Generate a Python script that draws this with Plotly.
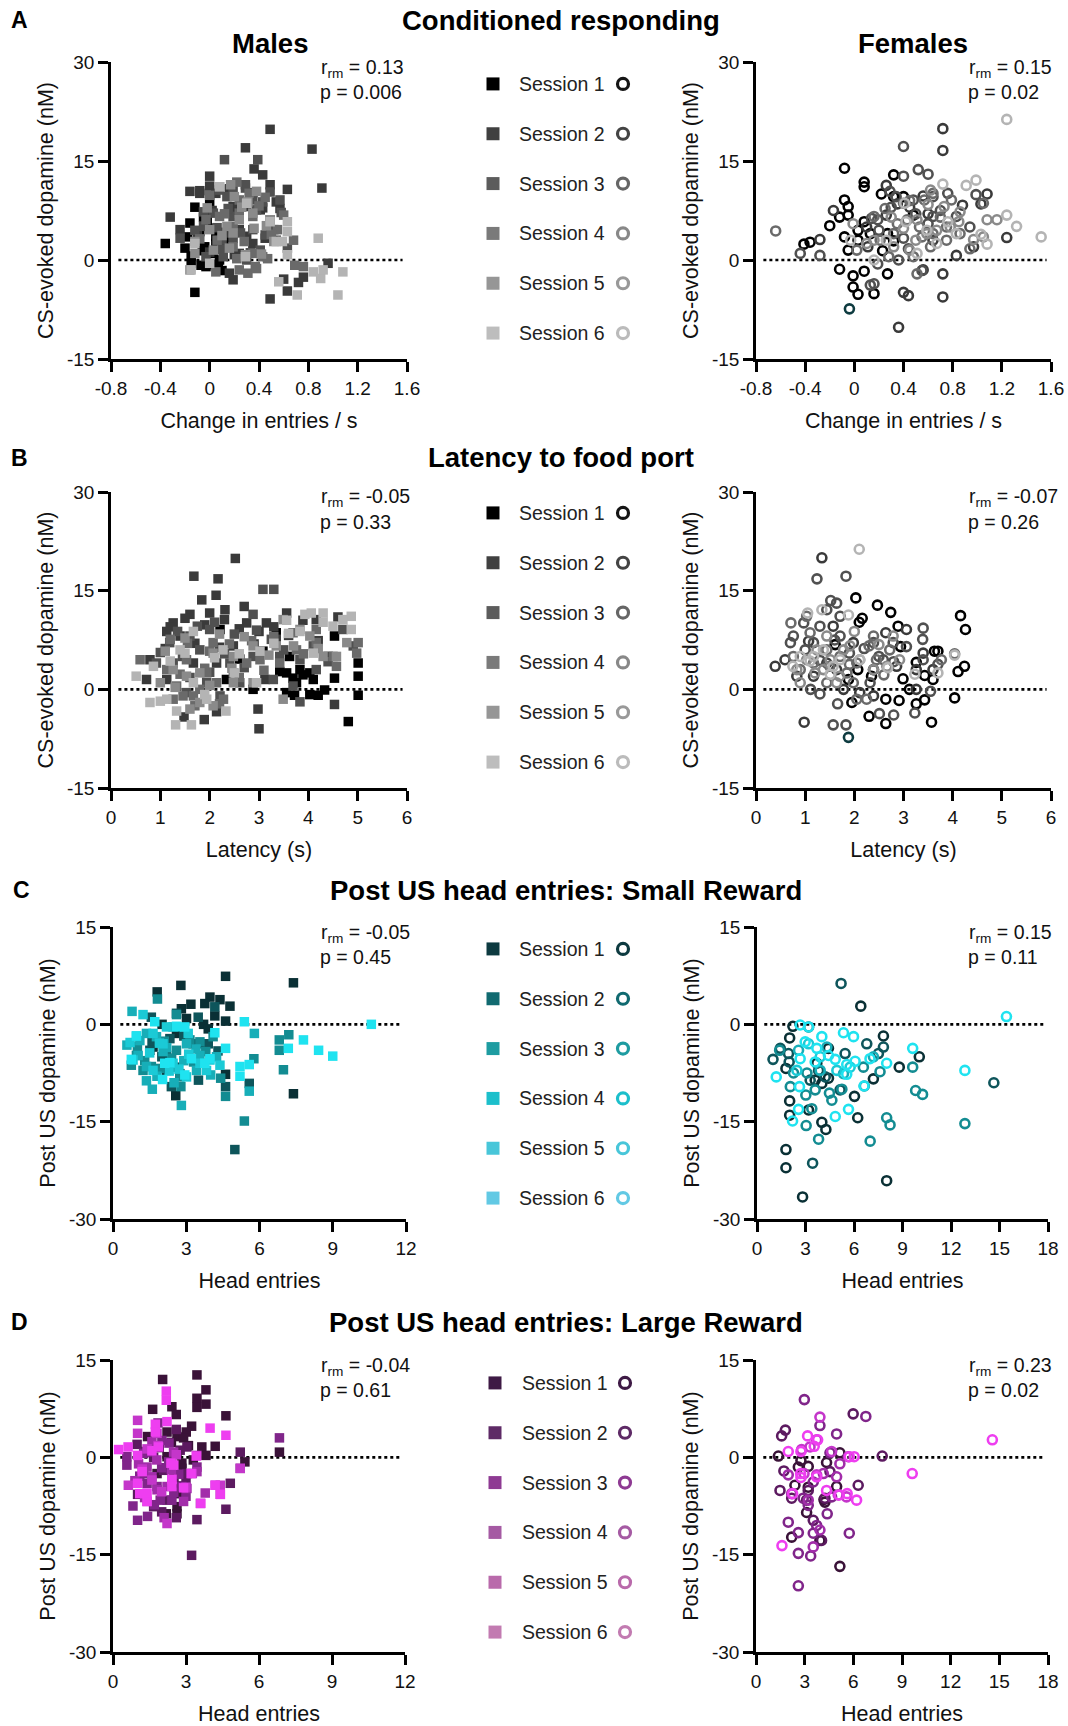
import plotly.graph_objects as go

# ======================= DATA =======================
SESSIONS = ["Session 1", "Session 2", "Session 3", "Session 4", "Session 5", "Session 6"]
SESSION_NUM = [1, 2, 3, 4, 5, 6]

# ---- Panel A: Conditioned responding, males (x: change in entries/s, y: CS-evoked DA) ----
A_M1_X = [-0.36, -0.12, -0.12, -0.16, -0.2, -0.15, -0.07, -0.03, 0.03, -0.04, 0.0, 0.07, 0.08, 0.03, 0.05, 0.01, -0.08, 0.12, -0.05, -0.18, -0.1, -0.02, 0.05, -0.15, -0.06, 0.1]
A_M1_Y = [2.5, -4.9, 8.0, 5.6, 1.8, -0.5, -0.8, -1.0, -0.7, 2.0, 8.9, -1.0, 0.0, 1.0, 2.5, 4.8, 4.3, 3.0, 6.5, 3.5, 2.8, 6.0, 3.6, 0.6, 1.4, -1.6]
A_M2_X = [-0.32, -0.24, -0.16, -0.08, 0.0, 0.0, 0.29, 0.49, 0.83, 0.91, 0.36, 0.43, 0.49, 0.63, 0.54, 0.41, 0.19, 0.16, 0.19, 0.6, 0.63, 0.49, 0.72, 0.76, 0.96, 0.24, 0.35, 0.14, 0.24, 0.05, 0.45, 0.3,
          -0.08, 0.16, 0.35, 0.57, 0.02, 0.22, 0.43, -0.1, 0.1, 0.3, 0.5, 0.0, 0.2]
A_M2_Y = [6.5, 4.6, 10.4, 10.1, 12.7, 11.2, 17.0, 19.8, 16.8, 10.9, 13.8, 12.9, 11.4, 10.7, 8.8, 7.6, 8.1, -2.0, -3.0, -2.9, -4.7, -5.9, -3.4, -2.6, -0.5, 1.0, 2.5, 4.1, 4.6, 10.1, 3.3, 8.1,
          10.5, 10.8, 10.2, 7.8, 7.5, 7.2, 7.9, 3.9, 4.2, 3.6, 4.4, 1.2, 0.8]
A_M3_X = [0.12, 0.39, 0.29, 0.57, 0.43, 0.19, 0.35, 0.19, 0.03, 0.1, -0.03, -0.05, 0.19, 0.54, 0.63, 0.3, 0.11, -0.24, 0.35, 0.14, 0.52, 0.41,
          0.08, 0.29, 0.49, -0.05, 0.15, 0.38, 0.58, -0.12, 0.06, 0.25, 0.45, 0.1, 0.33]
A_M3_Y = [15.2, 15.2, 11.4, 9.1, 8.8, 10.9, 4.6, 6.6, 7.1, 3.0, 0.5, 5.1, 3.3, 3.0, 1.8, 0.0, 0.5, 3.3, 9.1, 9.6, 4.6, 1.5,
          10.6, 10.9, 10.3, 7.3, 7.8, 7.6, 7.2, 4.5, 4.9, 4.1, 3.8, 1.6, 1.1]
A_M4_X = [0.24, 0.31, 0.37, 0.43, 0.47, 0.69, 0.76, 0.68, 0.55, 0.19, 0.06, 0.08, 0.24, 0.35, 0.32, -0.03, 0.19, 0.35, 0.49, 0.24,
          0.0, 0.22, 0.45, 0.12, 0.4, 0.6, -0.08, 0.28, 0.5, 0.05, 0.22, 0.38]
A_M4_Y = [-1.5, -2.0, -1.0, 0.5, 0.2, -0.8, -1.0, 3.0, 4.6, 5.1, 3.0, 6.6, 7.1, 6.6, 10.1, 6.1, 2.0, 1.0, 6.1, 9.1,
          9.8, 11.8, 9.5, 7.0, 8.2, 6.8, 3.2, 2.8, 3.9, -1.8, 0.2, -1.3]
A_M5_X = [0.29, 0.3, 0.08, 0.17, 0.49, 0.24, -0.16, -0.12, -0.12, 0.0, 0.14, 0.35, 0.31, 0.52, 0.03, 0.19,
          0.2, 0.38, -0.02, 0.26, 0.46, 0.1, 0.36, 0.16, 0.42]
A_M5_Y = [0.8, 8.6, 11.1, 11.4, 6.1, 6.1, -1.5, 1.0, 2.8, 4.6, 5.1, 7.1, 8.8, 2.8, 1.5, 4.1,
          9.6, 10.4, 7.9, 8.0, 5.2, 3.7, 4.8, 1.8, 0.9]
A_M6_X = [0.63, 0.63, 0.59, 0.63, 0.88, 0.71, 0.84, 0.9, 0.92, 1.04, 1.08, 0.56, -0.15, -0.12, 0.3, 0.49, 0.54, 0.08, 0.29, 0.0]
A_M6_Y = [5.8, 4.3, 2.8, 0.8, 3.3, -5.3, -1.8, -2.8, -1.5, -5.3, -1.8, -3.3, -1.5, 2.5, 8.6, 5.8, 2.8, 11.1, 0.5, -0.5]

# ---- Panel A: females (circles) ----
A_F1_X = [-0.08, 0.08, 0.08, 0.32, 0.22, 0.32, -0.08, -0.05, -0.05, -0.12, -0.2, -0.41, -0.36, -0.08, 0.03, 0.03, -0.05, 0.08, 0.13, 0.27, 0.32, 0.23, -0.12, -0.01, -0.01, 0.03, 0.08, 0.16, 0.27, 0.48, 0.4]
A_F1_Y = [13.9, 11.8, 11.1, 12.9, 10.0, 9.6, 9.1, 8.1, 6.8, 6.5, 5.2, 2.4, 2.7, 3.5, 4.5, 3.0, 1.5, 5.8, 4.0, 4.0, 2.9, 1.4, -1.4, -2.4, -4.1, -5.2, -1.7, -5.1, -2.1, 6.8, 9.6]
A_F2_X = [0.72, 0.72, 0.26, 0.56, 1.03, 1.08, 0.45, 0.88, 0.83, 0.36, 0.44, 0.40, 0.11, 0.26, 1.24, -0.28, -0.17, 0.72, 0.72, 0.56, 0.64, 0.97, 0.1, 0.35, 0.6]
A_F2_Y = [19.9, 16.6, 11.3, 9.7, 8.5, 10.0, 8.0, 8.3, 0.7, -10.2, -5.4, -4.9, 2.0, 6.8, 3.4, 3.1, 7.5, -2.1, -5.6, -1.5, 3.0, 2.0, 5.0, 8.5, 7.0]
A_F3_X = [0.4, 0.52, 0.6, 0.4, -0.44, -0.28, 0.14, 0.19, 0.29, 0.34, 0.48, 0.64, 0.76, 0.94, 0.99, 0.4, 0.44, 0.36, 0.19, 0.13, 0.16, 0.55, 0.64, 0.83, 0.3, 0.5, 0.7, 0.2, 0.6]
A_F3_Y = [17.2, 13.7, 13.0, 12.7, 1.0, 0.7, 6.3, 6.1, 10.4, 9.6, 9.1, 9.6, 10.1, 5.0, 9.9, 3.3, 1.7, 0.0, -0.6, -3.8, -3.6, -1.6, 6.6, 6.6, 8.0, 7.0, 7.5, 4.5, 5.5]
A_F4_X = [-0.64, 0.4, 0.57, 0.28, 0.51, 0.16, 0.02, 0.21, 0.64, 0.75, 0.86, 0.94, 1.05, 0.62, 0.75, 0.43, 0.53, 0.32, 0.79, 0.64, 0.48, 0.35, 0.55, 0.25, 0.45, 0.7]
A_F4_Y = [4.4, 8.6, 9.1, 0.5, -2.1, 6.6, 1.5, 3.0, 4.0, 5.0, 4.0, 1.7, 8.6, 2.0, 3.0, 6.1, 5.0, 4.0, 9.1, 10.1, 0.5, 5.5, 3.5, 7.8, 9.0, 6.5]
A_F5_X = [1.08, 1.16, 0.86, 0.78, 1.05, 0.97, 0.67, 0.59, 0.51, 0.32, 0.16, -0.01, 0.45, 0.1, 0.73, 0.62, 0.4, 0.6, 0.85, 0.3, 0.5]
A_F5_Y = [6.1, 6.1, 7.3, 5.0, 3.5, 3.1, 4.5, 4.0, 6.1, 2.0, 3.0, 5.5, 1.5, 2.5, 8.1, 10.6, 4.8, 8.4, 5.8, 6.5, 3.0]
A_F6_X = [1.24, 0.72, 0.91, 0.99, 1.24, 1.32, 1.52, 1.08, 1.03, 0.83, 0.76, 0.67, 0.59, 0.41, 0.42, -0.03, 0.26, 0.51, 0.16]
A_F6_Y = [21.3, 11.5, 11.3, 12.1, 6.8, 5.1, 3.5, 2.4, 3.9, 4.0, 5.8, 2.5, 4.5, 8.6, 5.8, 3.0, 3.0, 1.0, 0.0]
A_FX_X = [-0.04]
A_FX_Y = [-7.4]

# ---- Panel B: Latency to food port, males ----
B_M1_X = [3.42, 3.56, 3.69, 3.83, 3.89, 4.03, 3.76, 3.56, 3.72, 4.03, 4.2, 4.33, 4.53, 5.01, 5.01, 5.01, 4.81, 4.53, 4.4, 3.08, 3.35, 2.21, 2.88, 2.34, 2.61, 3.62, 4.1]
B_M1_Y = [2.7, 2.5, 1.7, 3.0, 2.2, 2.5, 1.0, -0.5, -0.9, -0.8, -0.9, -0.1, 1.7, 4.0, 2.0, -0.9, -4.9, 8.1, 5.0, 5.8, 8.6, 9.1, 0.0, 1.5, 4.6, 5.0, 1.5]
B_M2_X = [1.68, 2.52, 2.17, 2.13, 2.7, 2.31, 1.6, 1.84, 2.0, 1.13, 1.26, 1.4, 2.75, 3.15, 4.6, 4.16, 3.89, 2.98, 3.0, 1.48, 1.89, 2.14, 4.53, 0.79, 0.72, 1.13, 1.67, 2.14, 2.48, 3.56, 3.35, 3.12,
          1.2, 1.5, 1.9, 2.3, 2.6, 3.0, 3.3, 1.1, 1.7, 2.2, 2.9, 3.6, 4.2]
B_M2_Y = [17.2, 19.9, 16.8, 14.3, 12.6, 12.1, 11.4, 13.6, 11.6, 8.8, 10.1, 8.1, 10.1, 10.1, 11.0, 10.6, 10.5, -3.0, -6.0, -4.2, -4.6, -3.4, -2.3, 4.5, 1.5, 1.5, 4.0, 4.0, 6.6, 11.6, 7.6, 1.5,
          9.5, 10.8, 9.8, 10.6, 9.2, 8.8, 9.5, 6.2, 7.0, 6.4, 6.9, 8.2, 7.4]
B_M3_X = [3.08, 3.3, 2.88, 2.0, 1.6, 1.19, 0.92, 1.26, 1.8, 2.41, 2.88, 3.42, 3.83, 4.1, 4.7, 4.91, 1.94, 1.53, 2.61, 3.29, 3.69, 3.83, 4.16, 2.21,
          1.35, 1.75, 2.1, 2.5, 2.95, 3.25, 1.0, 1.45, 2.3, 2.7, 3.5, 4.4, 1.6, 2.0]
B_M3_Y = [15.2, 15.2, 11.4, 9.1, 8.1, 7.1, 4.0, 4.0, 6.0, 4.0, 5.0, 5.0, 4.5, 6.6, 9.1, 6.6, 1.0, -0.5, 1.0, 1.5, 0.5, -1.9, 3.0, -1.0,
          8.8, 9.6, 10.2, 8.4, 9.0, 7.6, 5.6, 5.0, 5.4, 3.3, 6.0, 4.2, 1.8, 2.6]
B_M4_X = [1.33, 1.46, 1.67, 1.8, 1.94, 2.14, 2.28, 2.48, 2.75, 3.02, 3.42, 3.76, 4.16, 4.5, 4.57, 5.01, 4.98, 4.16, 3.69, 2.07, 1.53, 1.13, 0.59, 1.26,
          1.2, 1.55, 2.0, 2.4, 2.85, 3.3, 3.9, 1.4, 1.9, 2.6, 3.1, 1.7, 2.2]
B_M4_Y = [0.5, -1.0, -1.0, 0.0, 2.5, 1.0, -1.5, 2.5, 4.0, 4.5, 4.0, 6.0, 7.1, 5.0, 3.5, 7.1, 5.5, 9.1, 8.6, 7.1, 4.5, 3.0, 4.5, -1.5,
          7.6, 7.0, 5.8, 6.9, 7.4, 8.0, 5.4, 2.3, 3.2, 1.8, 2.9, -2.5, -2.2]
B_M5_X = [3.35, 3.49, 3.83, 4.03, 4.3, 4.57, 4.78, 2.88, 2.48, 2.07, 1.8, 1.53, 1.26, 1.0, 1.8, 2.07, 2.88, 2.48, 3.49,
          1.1, 1.5, 2.2, 2.7, 3.2, 3.7, 4.2, 1.3, 2.0, 2.45, 1.6]
B_M5_Y = [6.6, 10.6, 9.1, 8.1, 5.0, 5.0, 7.1, 6.6, 5.0, 5.5, 2.5, 2.0, 3.0, 1.0, -2.0, -2.5, 1.0, 1.0, -1.5,
          5.8, 7.8, 8.4, 8.0, 5.2, 6.6, 6.2, 0.3, 0.6, 3.2, -3.0]
B_M6_X = [0.51, 0.79, 1.0, 1.13, 1.33, 1.31, 1.63, 2.33, 1.94, 1.67, 1.67, 1.4, 3.02, 3.56, 3.93, 4.06, 4.3, 4.87, 4.87, 4.5, 3.83, 4.1, 2.95, 2.27, 0.86,
          1.2, 1.5, 2.1, 2.6, 3.3, 3.6, 4.3, 4.7, 1.9, 2.5]
B_M6_Y = [2.0, -2.0, -1.8, -1.5, -3.3, -5.4, -5.4, -3.3, -1.5, 1.0, 8.8, 6.0, 5.8, 10.5, 11.4, 11.6, 11.6, 11.1, 9.1, 9.6, 8.8, 5.5, 1.0, 6.0, 3.5,
          4.3, 5.5, 4.8, 5.4, 7.0, 8.5, 10.2, 10.6, -0.8, 2.5]

# ---- Panel B: females ----
B_F1_X = [2.03, 2.47, 2.74, 2.89, 2.1, 2.16, 1.61, 1.88, 2.07, 2.39, 2.35, 2.3, 2.64, 2.64, 2.91, 2.99, 3.12, 2.94, 3.26, 3.43, 3.43, 3.57, 3.6, 3.63, 3.7, 4.04, 4.11, 4.16, 4.24, 4.26, 1.95, 3.26]
B_F1_Y = [13.9, 12.8, 11.7, 9.6, 10.2, 10.8, 6.8, 1.5, 3.0, 3.0, 2.0, -4.1, -1.5, -5.2, -1.7, 1.6, 0.0, 6.5, 4.1, 2.1, -1.6, -5.0, 1.5, 5.8, 5.8, -1.3, 2.7, 11.2, 3.5, 9.1, -2.0, -2.2]
B_F2_X = [1.34, 1.07, 0.98, 0.39, 0.59, 1.17, 1.57, 1.98, 2.64, 3.06, 2.86, 3.26, 3.4, 3.6, 3.26, 2.39, 2.11, 1.64, 1.44, 0.83, 1.78]
B_F2_Y = [20.0, 7.3, -5.0, 3.5, 4.5, 2.0, 9.6, 7.1, 8.6, 9.1, 3.5, 3.0, 5.5, 3.0, 0.0, -1.0, -0.5, 3.0, 4.0, 2.0, 0.0]
B_F3_X = [1.24, 1.83, 1.52, 1.64, 1.3, 1.44, 1.71, 0.97, 0.76, 0.7, 1.17, 1.71, 2.39, 2.79, 3.06, 3.4, 3.7, 3.4, 3.39, 1.57, 1.83, 1.66, 2.8, 2.51, 3.23, 3.55, 1.11, 1.3, 2.32, 2.59,
          1.0, 1.3, 1.6, 1.9, 2.2, 2.5, 2.8]
B_F3_Y = [16.8, 17.2, 13.5, 13.1, 9.6, 12.1, 11.1, 10.1, 8.1, 7.1, 7.1, 8.1, 7.1, 7.1, 6.5, 4.5, 3.8, 9.3, 7.6, -5.4, -5.4, -2.2, -3.9, -3.7, -3.6, -0.3, 0.0, -0.7, 1.0, 4.5,
          6.0, 4.4, 7.5, 5.5, 6.2, 5.0, 4.2]
B_F4_X = [0.71, 1.03, 0.76, 0.9, 1.17, 1.44, 1.71, 2.05, 2.45, 2.72, 2.39, 1.98, 2.25, 1.85, 4.04, 3.77, 2.05, 1.44, 1.1, 1.5, 1.9, 2.3, 2.6]
B_F4_Y = [10.1, 11.1, 5.0, 3.0, 4.0, 6.0, 5.0, 4.0, 4.5, 6.0, 8.1, 1.0, -1.5, 2.5, 5.4, 4.5, -1.5, 1.0, 8.6, 3.5, 3.8, 6.6, 2.2]
B_F5_X = [0.83, 1.03, 1.24, 1.37, 1.51, 1.78, 2.11, 2.39, 2.66, 2.92, 2.79, 1.91, 1.44, 0.9, 1.64, 1.2, 1.7, 2.0, 2.5]
B_F5_Y = [3.0, 4.5, 6.0, 3.0, 4.5, 6.0, 4.5, 3.0, 3.5, 4.5, 8.1, 6.6, 8.1, 1.0, 1.0, 2.5, 2.0, 8.8, 6.8]
B_F6_X = [2.1, 1.34, 1.05, 1.88, 0.75, 1.1, 1.17, 1.37, 1.57, 1.71, 2.11, 2.68, 3.23, 3.7, 4.04, 1.51, 0.9]
B_F6_Y = [21.3, 12.1, 11.6, 11.3, 3.5, 4.3, 5.0, 6.0, 3.5, 4.5, 4.5, 3.3, 2.3, 2.5, 5.2, 2.3, 5.0]
B_FX_X = [1.88]
B_FX_Y = [-7.3]

# ---- Panel C: Post US head entries, small reward, males ----
C_M1_X = [4.61, 7.39, 2.78, 1.81, 3.97, 4.38, 3.76, 3.19, 4.79, 2.8, 4.17, 4.61, 3.71, 2.01, 3.01, 7.39, 4.61, 2.57, 2.19, 1.64, 2.6, 3.69, 3.9]
C_M1_Y = [7.4, 6.4, 6.0, 5.0, 4.2, 3.8, 3.2, 3.1, 2.8, 2.4, 1.3, 0.5, 0.0, 0.0, 0.9, -10.7, -7.7, -11.0, -7.1, -3.5, -1.4, -3.0, -0.7]
C_M2_X = [4.99, 5.58, 4.61, 4.17, 2.6, 2.33, 2.19, 1.51, 2.74, 3.28, 3.9, 2.6, 1.57, 3.49, 2.39, 1.6, 2.0, 2.9, 3.5, 4.3]
C_M2_Y = [-19.3, -9.1, -9.6, 2.7, 1.7, -2.2, -4.8, -4.0, -7.6, -3.0, -3.0, -6.6, 1.1, 1.1, -9.6, -2.6, -5.0, -1.8, -8.6, -4.1]
C_M3_X = [1.82, 5.38, 4.61, 4.41, 2.78, 2.74, 6.81, 6.98, 7.2, 6.81, 5.77, 1.23, 1.57, 0.96, 2.6, 3.15, 3.56, 2.6, 4.1, 0.75,
          1.0, 1.9, 2.4, 3.3, 3.8, 2.1, 1.3]
C_M3_Y = [3.9, -14.9, -11.1, -8.3, -9.6, -8.1, -4.0, -7.0, -1.6, -2.4, -5.3, -7.1, -6.5, -4.8, -4.0, -2.4, -2.7, 1.5, -1.9, -6.3,
          -3.4, -6.8, -5.2, -5.8, -4.2, -2.6, -5.6]
C_M4_X = [0.78, 0.57, 1.03, 1.37, 1.61, 2.8, 5.58, 5.79, 1.37, 2.05, 3.01, 3.56, 4.24, 1.78, 2.46, 1.37, 3.42, 1.1, 2.2, 2.9, 3.4, 4.0, 1.8, 2.5]
C_M4_Y = [2.0, -3.2, -4.8, -8.7, -10.0, -12.5, -10.3, -1.4, -1.4, -4.2, -3.0, -4.8, -5.0, -1.9, -0.4, -6.5, -7.1, -2.5, -3.6, -5.6, -3.8, -7.8, -8.0, -9.0]
C_M5_X = [1.23, 0.96, 0.82, 1.64, 2.05, 2.46, 3.08, 3.56, 3.97, 4.38, 3.01, 3.83, 2.19, 1.64, 2.6, 0.7, 1.5, 2.3, 3.1, 1.9, 2.7]
C_M5_Y = [1.5, -1.8, -5.5, -1.4, -3.0, -6.0, -1.4, -6.0, -5.5, -6.3, -8.1, -7.1, -0.4, -7.1, -0.4, -2.8, -4.4, -7.2, -4.6, -2.9, -6.9]
C_M6_X = [5.38, 10.58, 7.8, 7.18, 8.42, 9.0, 5.2, 5.58, 5.2, 4.61, 4.17, 2.03, 2.94, 3.21, 2.33, 2.12, 0.96, 0.75, 1.71, 2.6, 2.94, 3.76, 3.97]
C_M6_Y = [0.4, 0.0, -2.4, -3.7, -4.0, -4.9, -6.5, -6.2, -8.0, -3.7, -1.3, -8.5, -7.8, -5.3, -5.9, -6.0, -1.8, -5.4, 0.4, -0.3, -0.4, -6.0, -5.3]

# ---- Panel C: females ----
C_F1_X = [2.22, 2.02, 1.79, 2.02, 2.02, 1.79, 1.79, 2.82, 4.01, 4.26, 4.42, 4.01, 3.6, 6.03, 6.23, 6.42, 7.2, 7.82, 8.8, 10.04, 8.02, 3.19, 3.7, 4.42]
C_F1_Y = [-0.3, -2.1, -6.8, -11.8, -14.0, -19.3, -22.1, -26.6, -15.1, -16.2, -8.3, -9.1, -8.6, -11.1, -14.4, 2.8, -8.4, -1.8, -6.6, -5.0, -24.1, -13.2, -6.0, -3.7]
C_F2_X = [5.2, 5.45, 6.79, 7.51, 7.82, 1.95, 1.99, 3.29, 3.81, 4.22, 5.14, 14.65, 3.44, 3.19, 1.44, 0.99]
C_F2_Y = [6.3, -4.5, -3.0, -4.5, -3.5, -4.5, -5.8, -8.6, -7.1, -8.1, -10.1, -9.0, -21.4, -0.4, -3.7, -5.4]
C_F3_X = [12.86, 7.0, 3.81, 3.04, 8.02, 8.23, 9.81, 10.24, 9.63, 6.64, 5.25, 4.48, 3.39, 2.26, 3.09, 3.02, 3.6, 4.63, 1.4, 2.06, 7.61, 6.58]
C_F3_Y = [-15.3, -18.0, -17.7, -15.6, -14.4, -15.5, -10.2, -10.8, -6.6, -9.5, -10.0, -10.6, -13.0, -7.5, -7.5, -10.9, -10.1, -11.7, -4.0, -9.6, -7.3, -6.6]
C_F4_X = [4.32, 3.91, 2.57, 5.35, 7.2]
C_F4_Y = [-3.5, -7.1, -4.0, -7.6, -5.0]
C_F5_X = [5.76, 3.19, 4.94, 3.91, 2.47]
C_F5_Y = [-6.6, -3.0, -7.1, -5.0, -7.1]
C_F6_X = [3.19, 4.01, 5.35, 5.97, 4.42, 4.84, 5.55, 6.07, 6.99, 8.02, 9.63, 12.86, 1.19, 2.67, 2.98, 3.7, 2.63, 2.57, 4.84, 5.66, 2.2, 5.55, 6.62, 15.43, 2.67, 3.6]
C_F6_Y = [-0.4, -1.9, -1.3, -1.9, -4.8, -5.4, -6.2, -5.7, -5.3, -6.0, -3.7, -7.1, -8.1, -0.1, -2.7, -3.7, -9.6, -13.1, -14.2, -13.1, -14.9, -7.7, -9.5, 1.2, -5.3, -5.8]

# ---- Panel D: Post US head entries, large reward, males ----
D_M1_X = [3.45, 2.04, 3.82, 3.45, 3.82, 3.45, 2.42, 1.63, 2.6, 4.64, 3.23, 2.22, 1.42, 2.63, 3.01, 4.2, 3.65, 3.82, 5.42, 6.84, 2.63, 2.22, 2.83, 1.81, 2.63, 2.19, 2.63, 2.83,
          2.4, 2.9, 3.1, 2.5, 3.3, 2.7]
D_M1_Y = [12.7, 12.0, 10.4, 9.1, 8.2, 7.7, 7.8, 7.4, 6.6, 6.4, 4.8, 3.9, 3.2, 3.2, 3.9, 1.7, 1.6, 0.3, -0.7, 0.8, 0.6, 0.1, -0.9, -2.5, -8.7, -8.7, -7.6, -1.7,
          2.3, 3.0, 1.8, -3.1, -0.4, -5.6]
D_M2_X = [3.23, 3.45, 4.64, 4.82, 5.23, 0.99, 1.01, 2.6, 3.04, 2.08, 1.67, 2.49, 3.04, 1.67, 2.22, 2.76, 1.3, 1.9, 2.3, 2.7, 3.0, 2.0, 2.6]
D_M2_Y = [-15.1, -9.6, -8.0, -4.0, 0.8, 2.0, -5.7, 4.3, 1.6, -2.0, -7.6, -3.5, -2.5, 0.0, -6.6, 1.1, 0.9, 1.5, -1.2, -4.4, -3.9, -8.4, -9.3]
D_M3_X = [6.84, 1.85, 2.01, 5.23, 0.82, 1.01, 1.42, 0.57, 0.57, 1.26, 1.4, 1.81, 1.94, 2.42, 2.83, 3.45, 1.26, 2.29, 1.1, 1.5, 2.0, 2.3, 2.7, 1.7, 2.5, 3.0]
D_M3_Y = [3.0, 5.3, 2.6, -1.7, -7.5, -9.7, -9.1, -1.2, 0.1, -2.5, -4.0, -4.5, -6.6, -6.6, -4.5, -1.5, 0.6, -0.7, -2.9, 0.8, -1.6, 2.2, -2.6, -7.3, -5.4, -6.0]
D_M4_X = [3.45, 4.41, 3.79, 1.05, 1.6, 2.22, 3.04, 2.49, 1.81, 1.4, 3.45, 0.9, 1.3, 1.8, 2.4, 2.9, 1.6, 2.1]
D_M4_Y = [0.3, -5.7, -5.5, -1.0, -3.0, -4.5, -4.8, 0.8, -5.0, -1.5, -2.2, -3.6, -6.2, -0.4, -1.9, -6.8, 2.4, -9.3]
D_M5_X = [0.63, 1.01, 1.01, 1.81, 1.85, 2.42, 2.42, 2.22, 1.4, 3.26, 4.2, 4.41, 5.23, 3.59, 1.2, 1.6, 2.0, 2.6, 3.0, 1.4]
D_M5_Y = [-4.3, 5.7, 3.7, 3.7, 1.8, -0.9, -3.4, -10.2, -6.8, -2.5, -4.3, -4.3, -1.7, -7.1, -1.8, -3.5, -5.3, 0.4, -4.6, 1.3]
D_M6_X = [0.23, 0.62, 1.01, 1.01, 1.4, 2.19, 2.19, 1.74, 1.74, 2.22, 3.99, 4.64, 3.21, 3.42, 2.38, 2.42, 2.42, 1.4, 4.2, 3.61, 4.41, 1.87, 1.2, 1.6, 2.5, 2.9, 1.1]
D_M6_Y = [1.2, 1.6, 0.3, -4.0, -6.8, 10.2, 8.8, 5.1, 3.9, 5.5, 4.5, 3.4, -2.5, 0.2, -0.9, -3.4, -4.5, -5.5, -4.3, -7.1, -5.7, 1.6, -2.2, 1.0, -1.2, -4.7, -5.6]

# ---- Panel D: females ----
D_F1_X = [1.38, 2.2, 2.4, 2.61, 2.77, 3.22, 3.12, 4.35, 4.19, 4.97, 5.17, 5.17, 3.22, 4.25, 3.94]
D_F1_Y = [0.2, -12.3, -4.3, -1.5, -0.5, -4.6, -8.5, -0.8, -6.5, -4.5, 0.7, -16.8, -1.4, -6.9, -12.8]
D_F2_X = [1.58, 1.81, 1.72, 1.48, 2.2, 4.25, 4.56, 5.99, 6.3, 7.78, 4.04, 3.12, 3.53, 3.22]
D_F2_Y = [3.3, 4.2, -2.1, -5.1, -6.3, -6.3, -2.2, 6.7, -4.3, 0.2, -12.8, -6.6, -9.7, -5.1]
D_F3_X = [2.98, 3.94, 6.77, 4.97, 1.99, 2.61, 2.61, 3.37, 2.61, 3.53, 3.74, 5.75, 4.39, 4.66, 2.91, 3.22, 4.56, 3.53]
D_F3_Y = [8.9, 4.9, 6.3, 3.6, -10.0, -11.6, -14.8, -15.2, -19.8, -11.7, -10.5, -11.7, -8.7, -6.1, -6.3, -7.4, 0.7, -3.8]
D_F4_X = [3.22, 3.53, 3.94, 4.97, 4.15, 1.99, 2.2, 5.17, 5.69]
D_F4_Y = [-6.6, -13.8, -11.2, -3.0, -2.5, -2.7, -5.6, -1.0, 0.1]
D_F5_X = [3.94, 4.66, 3.33, 3.74, 2.81, 5.58, 5.07, 2.96, 3.74]
D_F5_Y = [6.2, 0.9, 1.6, 2.7, 1.2, -6.1, -5.8, -2.5, -2.7]
D_F6_X = [14.57, 9.63, 1.6, 1.99, 2.77, 3.18, 3.8, 3.59, 2.77, 2.75, 2.26, 4.35, 5.13, 5.62, 6.2, 5.75, 6.05, 3.74]
D_F6_Y = [2.7, -2.5, -13.6, 0.9, 0.9, 3.3, 2.7, 1.7, -3.1, -2.5, -5.6, -5.1, -5.8, -5.6, -6.6, 0.1, 0.1, -3.0]

# ---- stats text ----
STATS = {
    "A_M": ("0.13", "0.006"), "A_F": ("0.15", "0.02"),
    "B_M": ("-0.05", "0.33"), "B_F": ("-0.07", "0.26"),
    "C_M": ("-0.05", "0.45"), "C_F": ("0.15", "0.11"),
    "D_M": ("-0.04", "0.61"), "D_F": ("0.23", "0.02"),
}

# ---- ticks ----
XT_A = [-0.8, -0.4, 0, 0.4, 0.8, 1.2, 1.6]
XT_A_LBL = ["-0.8", "-0.4", "0", "0.4", "0.8", "1.2", "1.6"]
XT_B = [0, 1, 2, 3, 4, 5, 6]
XT_B_LBL = ["0", "1", "2", "3", "4", "5", "6"]
XT_CM = [0, 3, 6, 9, 12]
XT_CM_LBL = ["0", "3", "6", "9", "12"]
XT_CF = [0, 3, 6, 9, 12, 15, 18]
XT_CF_LBL = ["0", "3", "6", "9", "12", "15", "18"]
YT_AB = [-15, 0, 15, 30]
YT_AB_LBL = ["-15", "0", "15", "30"]
YT_CD = [-30, -15, 0, 15]
YT_CD_LBL = ["-30", "-15", "0", "15"]

# ======================= STYLE =======================
W, H = 1068, 1726
FONT = "Liberation Sans, Arial, Helvetica, sans-serif"
INK = "#111111"

GRAY_PTS = ["#000000", "#3a3a3a", "#505050", "#6a6a6a", "#8a8a8a", "#b4b4b4"]
TEAL_PTS = ["#0a3035", "#0e555b", "#138c92", "#17aeb8", "#1bcad6", "#1fe3f0"]
MAG_PTS = ["#3a1238", "#5c1a60", "#80258a", "#a22daa", "#c436ca", "#ee3ef0"]

GRAY_LEG_SQ = ["#000000", "#404040", "#5c5c5c", "#7a7a7a", "#969696", "#bdbdbd"]
GRAY_LEG_CI = ["#151515", "#444444", "#666666", "#888888", "#999999", "#bbbbbb"]
TEAL_LEG = ["#0d3a40", "#116a70", "#1e9ca1", "#1cbfcb", "#48c6d9", "#62c9e4"]
MAG_LEG = ["#3e1a45", "#5e2a66", "#8e3a93", "#a55aa3", "#b96aab", "#c27bb1"]

fig = go.Figure()
layout = {}
annotations = []
shapes = []

panels = [
    ("A_M", (111, 407, 62, 359), [(A_M1_X, A_M1_Y), (A_M2_X, A_M2_Y), (A_M3_X, A_M3_Y), (A_M4_X, A_M4_Y), (A_M5_X, A_M5_Y), (A_M6_X, A_M6_Y)],
     "square", GRAY_PTS, (-0.8, 1.6), XT_A, XT_A_LBL, (-15, 30), YT_AB, YT_AB_LBL, "Change in entries / s", "CS-evoked dopamine (nM)", None),
    ("A_F", (756, 1051, 62, 359), [(A_F1_X, A_F1_Y), (A_F2_X, A_F2_Y), (A_F3_X, A_F3_Y), (A_F4_X, A_F4_Y), (A_F5_X, A_F5_Y), (A_F6_X, A_F6_Y)],
     "circle", GRAY_PTS, (-0.8, 1.6), XT_A, XT_A_LBL, (-15, 30), YT_AB, YT_AB_LBL, "Change in entries / s", "CS-evoked dopamine (nM)", (A_FX_X, A_FX_Y)),
    ("B_M", (111, 407, 492, 788), [(B_M1_X, B_M1_Y), (B_M2_X, B_M2_Y), (B_M3_X, B_M3_Y), (B_M4_X, B_M4_Y), (B_M5_X, B_M5_Y), (B_M6_X, B_M6_Y)],
     "square", GRAY_PTS, (0, 6), XT_B, XT_B_LBL, (-15, 30), YT_AB, YT_AB_LBL, "Latency (s)", "CS-evoked dopamine (nM)", None),
    ("B_F", (756, 1051, 492, 788), [(B_F1_X, B_F1_Y), (B_F2_X, B_F2_Y), (B_F3_X, B_F3_Y), (B_F4_X, B_F4_Y), (B_F5_X, B_F5_Y), (B_F6_X, B_F6_Y)],
     "circle", GRAY_PTS, (0, 6), XT_B, XT_B_LBL, (-15, 30), YT_AB, YT_AB_LBL, "Latency (s)", "CS-evoked dopamine (nM)", (B_FX_X, B_FX_Y)),
    ("C_M", (113, 406, 927, 1219), [(C_M1_X, C_M1_Y), (C_M2_X, C_M2_Y), (C_M3_X, C_M3_Y), (C_M4_X, C_M4_Y), (C_M5_X, C_M5_Y), (C_M6_X, C_M6_Y)],
     "square", TEAL_PTS, (0, 12), XT_CM, XT_CM_LBL, (-30, 15), YT_CD, YT_CD_LBL, "Head entries", "Post US dopamine (nM)", None),
    ("C_F", (757, 1048, 927, 1219), [(C_F1_X, C_F1_Y), (C_F2_X, C_F2_Y), (C_F3_X, C_F3_Y), (C_F4_X, C_F4_Y), (C_F5_X, C_F5_Y), (C_F6_X, C_F6_Y)],
     "circle", TEAL_PTS, (0, 18), XT_CF, XT_CF_LBL, (-30, 15), YT_CD, YT_CD_LBL, "Head entries", "Post US dopamine (nM)", None),
    ("D_M", (113, 405, 1360, 1652), [(D_M1_X, D_M1_Y), (D_M2_X, D_M2_Y), (D_M3_X, D_M3_Y), (D_M4_X, D_M4_Y), (D_M5_X, D_M5_Y), (D_M6_X, D_M6_Y)],
     "square", MAG_PTS, (0, 12), XT_CM, XT_CM_LBL, (-30, 15), YT_CD, YT_CD_LBL, "Head entries", "Post US dopamine (nM)", None),
    ("D_F", (756, 1048, 1360, 1652), [(D_F1_X, D_F1_Y), (D_F2_X, D_F2_Y), (D_F3_X, D_F3_Y), (D_F4_X, D_F4_Y), (D_F5_X, D_F5_Y), (D_F6_X, D_F6_Y)],
     "circle", MAG_PTS, (0, 18), XT_CF, XT_CF_LBL, (-30, 15), YT_CD, YT_CD_LBL, "Head entries", "Post US dopamine (nM)", None),
]

for i, (key, box, series, sym, cols, xr, xt, xtl, yr, yt, ytl, xtitle, ytitle, extra) in enumerate(panels, start=1):
    x0, x1, y0, y1 = box
    xa = "x" if i == 1 else f"x{i}"
    ya = "y" if i == 1 else f"y{i}"
    common = dict(showline=True, linecolor="black", linewidth=2.7, ticks="outside", ticklen=10,
                  tickwidth=2.6, tickcolor="black", showgrid=False, zeroline=False, automargin=False,
                  tickfont=dict(family=FONT, size=19, color=INK), ticklabelstandoff=0)
    layout[f"xaxis{i}"] = dict(common, domain=[x0 / W, x1 / W], range=list(xr), anchor=ya,
                               tickvals=xt, ticktext=xtl,
                               title=dict(text=xtitle, font=dict(family=FONT, size=21.5, color=INK), standoff=16))
    layout[f"yaxis{i}"] = dict(common, domain=[1 - y1 / H, 1 - y0 / H], range=list(yr), anchor=xa,
                               tickvals=yt, ticktext=ytl,
                               title=dict(text=ytitle, font=dict(family=FONT, size=21.5, color=INK), standoff=8))
    # dotted zero line
    shapes.append(dict(type="line", xref=f"{xa} domain", yref=ya, x0=0.025, x1=0.985, y0=0, y1=0,
                       line=dict(color="black", width=2.6, dash="dot"), layer="below"))
    for s, (xs, ys) in enumerate(series):
        if sym == "square":
            mk = dict(symbol="square", size=9.5, color=cols[s], line=dict(width=0))
        else:
            mk = dict(symbol="circle-open", size=9, color=cols[s], line=dict(width=2.6))
        fig.add_trace(go.Scatter(x=xs, y=ys, mode="markers", marker=mk, xaxis=xa, yaxis=ya,
                                 name=SESSIONS[s], showlegend=False, hoverinfo="skip"))
    if extra is not None:
        fig.add_trace(go.Scatter(x=extra[0], y=extra[1], mode="markers",
                                 marker=dict(symbol="circle-open", size=9, color="#0e3b40", line=dict(width=2.6)),
                                 xaxis=xa, yaxis=ya, showlegend=False, hoverinfo="skip"))
    # stats annotation
    r_txt, p_txt = STATS[key]
    ax_px = 319 if x0 < 500 else 967
    annotations.append(dict(xref="paper", yref="paper", x=ax_px / W, y=1 - (y0 + 6) / H,
                            xanchor="left", yanchor="middle", showarrow=False,
                            text=f"r<sub>rm</sub> = {r_txt}", font=dict(family=FONT, size=19.5, color=INK)))
    annotations.append(dict(xref="paper", yref="paper", x=(ax_px - 1) / W, y=1 - (y0 + 30) / H,
                            xanchor="left", yanchor="middle", showarrow=False,
                            text=f"p = {p_txt}", font=dict(family=FONT, size=19.5, color=INK)))

# ---------- legends (middle column) ----------
LEG_ROWS = [
    (59, 358, 493, 517, 623, GRAY_LEG_SQ, GRAY_LEG_CI),
    (488, 787, 493, 517, 623, GRAY_LEG_SQ, GRAY_LEG_CI),
    (924, 1223, 493, 517, 623, TEAL_LEG, TEAL_LEG),
    (1358, 1657, 495, 520, 625, MAG_LEG, MAG_LEG),
]
for j, (ytop, ybot, xsq, xtx, xci, csq, cci) in enumerate(LEG_ROWS):
    n = 9 + j
    layout[f"xaxis{n}"] = dict(domain=[470 / W, 650 / W], range=[470, 650], visible=False, anchor=f"y{n}")
    layout[f"yaxis{n}"] = dict(domain=[1 - ybot / H, 1 - ytop / H], range=[6.5, 0.5], visible=False, anchor=f"x{n}")
    fig.add_trace(go.Scatter(x=[xsq] * len(SESSION_NUM), y=SESSION_NUM, mode="markers",
                             marker=dict(symbol="square", size=13, color=csq, line=dict(width=0)),
                             xaxis=f"x{n}", yaxis=f"y{n}", showlegend=False, hoverinfo="skip"))
    fig.add_trace(go.Scatter(x=[xci] * len(SESSION_NUM), y=SESSION_NUM, mode="markers",
                             marker=dict(symbol="circle-open", size=11, color=cci, line=dict(width=3.2)),
                             xaxis=f"x{n}", yaxis=f"y{n}", showlegend=False, hoverinfo="skip"))
    for k, name in zip(SESSION_NUM, SESSIONS):
        annotations.append(dict(xref=f"x{n}", yref=f"y{n}", x=xtx, y=k, xanchor="left", yanchor="middle",
                                showarrow=False, text=name, font=dict(family=FONT, size=19.5, color="#222222")))

# ---------- titles ----------
TITLES = [
    ("Conditioned responding", 561, 20, 27.5),
    ("Males", 270, 43, 27.5),
    ("Females", 913, 43, 27.5),
    ("Latency to food port", 561, 457, 27.5),
    ("Post US head entries: Small Reward", 566, 890, 27.5),
    ("Post US head entries: Large Reward", 566, 1322, 27.5),
    ("A", 19, 20, 23),
    ("B", 19, 458, 23),
    ("C", 21, 890, 23),
    ("D", 19, 1322, 23),
]
for txt, px, py, fs in TITLES:
    annotations.append(dict(xref="paper", yref="paper", x=px / W, y=1 - py / H, xanchor="center", yanchor="middle",
                            showarrow=False, text=f"<b>{txt}</b>", font=dict(family=FONT, size=fs, color="#000000")))

fig.update_layout(width=W, height=H, margin=dict(l=0, r=0, t=0, b=0, autoexpand=False), paper_bgcolor="white",
                  plot_bgcolor="white", showlegend=False, annotations=annotations, shapes=shapes,
                  font=dict(family=FONT, color=INK), **layout)

fig.write_html("out.html", config={"displayModeBar": False},
               post_script="document.body.style.margin='0px';document.body.style.overflow='hidden';")
